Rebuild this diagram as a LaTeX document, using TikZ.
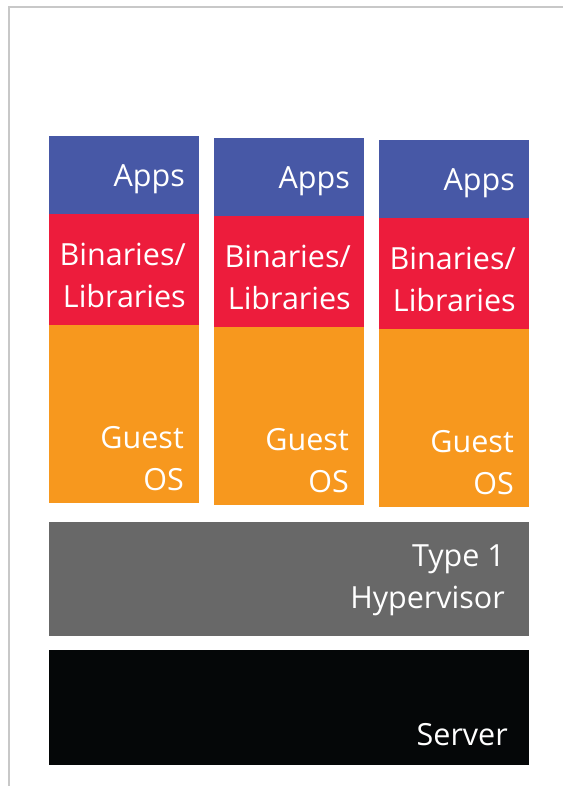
\documentclass[tikz,border=0pt]{standalone}
\usepackage{fontspec}
\setmainfont{Open Sans}
\definecolor{appblue}{HTML}{4758A6}
\definecolor{binred}{HTML}{ED1C3C}
\definecolor{osorange}{HTML}{F7981E}
\definecolor{hypgray}{HTML}{686868}
\definecolor{srvblack}{HTML}{050708}
\definecolor{framegray}{HTML}{C8C8C8}
\begin{document}
\begin{tikzpicture}[x=1pt,y=-1pt,
  lbl/.style={anchor=base east, inner sep=0pt, text=white,
              font=\fontsize{30.5}{42}\selectfont}]
\useasboundingbox (0,0) rectangle (563,786);
% page frame (left and top edges)
\draw[framegray, line width=2pt] (8.5,786) -- (8.5,7.5) -- (563,7.5);

% one guest stack per column: \guestStack{name}{left x}{top y}
\newcommand{\guestStack}[3]{%
  \fill[appblue]  (#2,#3)     rectangle ++(150,78)  coordinate (#1apps);
  \fill[binred]   (#2,#3+78)  rectangle ++(150,111) coordinate (#1bin);
  \fill[osorange] (#2,#3+189) rectangle ++(150,178) coordinate (#1os);
  \node[lbl] (#1a)  at (#2+136,#3+51)  {Apps};
  \node[lbl] (#1b1) at (#2+137,#3+129) {Binaries/};
  \node[lbl] (#1b2) at (#2+137,#3+171) {Libraries};
  \node[lbl] (#1g1) at (#2+135,#3+312) {Guest};
  \node[lbl] (#1g2) at (#2+135,#3+354) {OS};
}
\guestStack{vmA}{49}{136}
\guestStack{vmB}{214}{138}
\guestStack{vmC}{379}{140}

% hypervisor layer
\fill[hypgray] (49,522) rectangle (529,636);
\node[lbl] (hyp1) at (505,566) {Type 1};
\node[lbl] (hyp2) at (505,608) {Hypervisor};

% physical server
\fill[srvblack] (49,650) rectangle (529,765);
\node[lbl] (srv) at (508,745) {Server};
\end{tikzpicture}
\end{document}
